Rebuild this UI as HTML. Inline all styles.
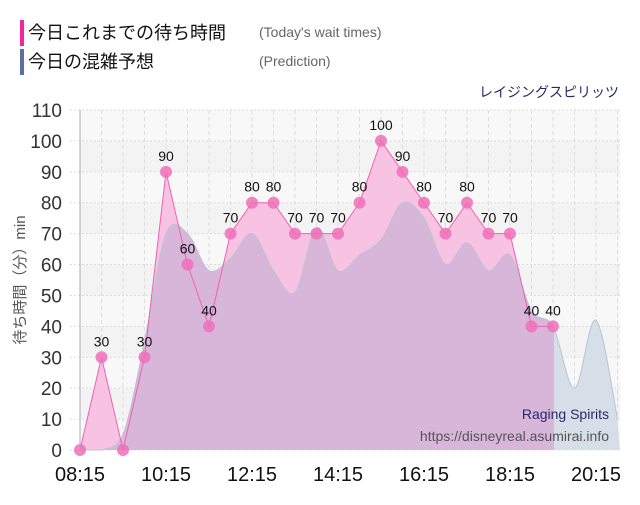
<!DOCTYPE html><html><head><meta charset="utf-8"><style>
body{margin:0;width:640px;height:500px;background:#fff;overflow:hidden;font-family:"Liberation Sans","Noto Sans CJK JP",sans-serif}
</style></head><body>
<svg id="s" width="640" height="500" xmlns="http://www.w3.org/2000/svg" font-family="Liberation Sans, Noto Sans CJK JP, sans-serif">
<rect x="20" y="20" width="4" height="26" fill="#f0289a"/>
<rect x="20" y="49" width="4" height="26" fill="#5a70a0"/>
<text x="28" y="39" font-size="18" fill="#111">今日これまでの待ち時間</text>
<text x="28" y="68" font-size="18" fill="#111">今日の混雑予想</text>
<text x="259" y="37" font-size="14" fill="#666">(Today's wait times)</text>
<text x="259" y="66" font-size="14" fill="#666">(Prediction)</text>
<text x="619" y="97" font-size="14" fill="#2a2a6a" text-anchor="end">レイジングスピリッツ</text>
<g id="g"></g>
</svg>
<script>
const g=document.getElementById('g');let h='';
const X=t=>80+(t-8.25)*43, Y=v=>450-v*340/110;
for(let i=0;i<11;i++){h+=`<rect x="80" y="${Y(i*10+10)}" width="540" height="${340/11}" fill="${i%2?'#f3f3f3':'#f8f8f8'}"/>`;}
for(let i=0;i<=11;i++){h+=`<line x1="70" x2="620" y1="${Y(i*10)}" y2="${Y(i*10)}" stroke="#ddd" stroke-dasharray="2,2"/>`;
h+=`<text x="62" y="${Y(i*10)+7}" font-size="19" fill="#333" text-anchor="end">${i*10}</text>`;}
for(let t=8.75;t<21;t+=0.5){h+=`<line x1="${X(t)}" x2="${X(t)}" y1="110" y2="450" stroke="#ddd" stroke-dasharray="4,3"/>`;}
const act=[0,30,0,30,90,60,40,70,80,80,70,70,70,80,100,90,80,70,80,70,70,40,40];
const pr=[0,0,5,35,70,70,58,62,70,58,51,72,58,63,68,80,75,60,67,58,63,45,40,20,42,10];
function smooth(v){let p=v.map((y,i)=>[X(8.25+i*0.5),Y(y)]);let d=`M${p[0]}`;
for(let i=0;i<p.length-1;i++){const a=p[i-1]||p[i],b=p[i],c=p[i+1],e=p[i+2]||c;
d+=`C${b[0]+(c[0]-a[0])/6},${Math.min(450,b[1]+(c[1]-a[1])/6)} ${c[0]-(e[0]-b[0])/6},${Math.min(450,c[1]-(e[1]-b[1])/6)} ${c[0]},${c[1]}`;}return d;}
const pd=smooth(pr);const pa=pd+`L620,450L80,450Z`;
let ap=act.map((v,i)=>`${X(8.25+i*0.5)},${Y(v)}`).join(' ');
h+=`<clipPath id="cl"><rect x="80" y="100" width="474" height="360"/></clipPath><clipPath id="cr"><rect x="554" y="100" width="70" height="360"/></clipPath>`;
h+=`<polygon points="80,450 ${ap} 554,450" fill="#f8c3e2"/>`;
h+=`<path d="${pa}" fill="#d8b6da" clip-path="url(#cl)"/>`;
h+=`<path d="${pa}" fill="#d6dfe7" clip-path="url(#cr)"/>`;
h+=`<path d="${pd}" fill="none" stroke="#b8c4d2" stroke-width="1"/>`;
h+=`<polyline points="${ap}" fill="none" stroke="#f060b0" stroke-width="1"/>`;
act.forEach((v,i)=>{const x=X(8.25+i*0.5),y=Y(v);h+=`<circle cx="${x}" cy="${y}" r="6" fill="#ee70b8" opacity="0.85"/>`;
if(v>0)h+=`<text x="${x}" y="${y-11}" font-size="14" fill="#111" text-anchor="middle">${v}</text>`;});
h+=`<line x1="80" x2="80" y1="110" y2="450" stroke="#aab"/>`;
['08:15','10:15','12:15','14:15','16:15','18:15','20:15'].forEach((t,i)=>{h+=`<text x="${80+i*86}" y="481" font-size="20" fill="#111" text-anchor="middle">${t}</text>`;});
h+=`<text transform="translate(25,280) rotate(-90)" font-size="15" fill="#555" text-anchor="middle">待ち時間（分）min</text>`;
h+=`<text x="609" y="419" font-size="14" fill="#2a2a6a" text-anchor="end">Raging Spirits</text>`;
h+=`<text x="609" y="441" font-size="14" fill="#555" text-anchor="end">https://disneyreal.asumirai.info</text>`;
g.innerHTML=h;
</script>
</body></html>
